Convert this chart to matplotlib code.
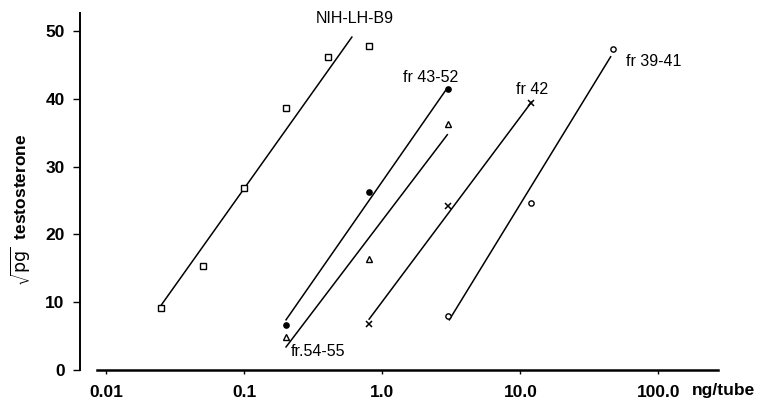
import numpy as np
import matplotlib
matplotlib.use("Agg")
import matplotlib.pyplot as plt

plt.rcParams['font.family'] = ['Liberation Sans', 'DejaVu Sans']

# measured points (ng/tube, sqrt pg testosterone)
nih_x = [0.025, 0.05, 0.1, 0.2, 0.4, 0.8]
nih_y = [9.1, 15.4, 26.9, 38.7, 46.1, 47.8]
f4352_x = [0.2, 0.8, 3.0]
f4352_y = [6.6, 26.2, 41.5]
f5455_x = [0.2, 0.8, 3.0]
f5455_y = [4.8, 16.3, 36.3]
f42_x = [0.8, 3.0, 12.0]
f42_y = [6.8, 24.2, 39.4]
f3941_x = [3.0, 12.0, 47.0]
f3941_y = [8.0, 24.7, 47.3]

# fitted lines (end points)
nih_fit_x = [0.024, 0.6]
nih_fit_y = [9.1, 49.1]
f4352_fit_x = [0.2, 2.95]
f4352_fit_y = [7.4, 41.6]
f5455_fit_x = [0.2, 2.95]
f5455_fit_y = [3.4, 34.7]
f42_fit_x = [0.8, 12.0]
f42_fit_y = [7.5, 39.5]
f3941_fit_x = [3.05, 45.0]
f3941_fit_y = [7.4, 46.2]

xticks = [0.01, 0.1, 1.0, 10.0, 100.0]
xticklabels = ['0.01', '0.1', '1.0', '10.0', '100.0']
yticks = [0, 10, 20, 30, 40, 50]

fig = plt.figure(figsize=(7.64, 4.05), dpi=100)
ax = fig.add_axes([80 / 764, 35 / 405, 640 / 764, 357 / 405])

ax.set_xscale('log')
ax.set_xlim(10 ** -2.192, 10 ** 2.4457)
ax.set_ylim(0, 52.65)

for fx, fy in [(nih_fit_x, nih_fit_y), (f4352_fit_x, f4352_fit_y),
               (f5455_fit_x, f5455_fit_y), (f42_fit_x, f42_fit_y),
               (f3941_fit_x, f3941_fit_y)]:
    ax.plot(fx, fy, color='black', linewidth=1.1)

ax.plot(nih_x, nih_y, 's', mfc='white', mec='black', ms=4.5, mew=1.0)
ax.plot(f4352_x, f4352_y, 'o', mfc='black', mec='black', ms=3.8)
ax.plot(f5455_x, f5455_y, '^', mfc='white', mec='black', ms=5, mew=1.0)
ax.plot(f42_x, f42_y, 'x', color='black', ms=5, mew=1.1)
ax.plot(f3941_x, f3941_y, 'o', mfc='white', mec='black', ms=3.8, mew=1.0)

# series labels
ax.text(0.33, 51.8, 'NIH-LH-B9', fontsize=11.5, ha='left', va='center')
ax.text(1.4, 43.2, 'fr 43-52', fontsize=11.5, ha='left', va='center')
ax.text(9.3, 41.3, 'fr 42', fontsize=11.5, ha='left', va='center')
ax.text(58, 45.5, 'fr 39-41', fontsize=11.5, ha='left', va='center')
ax.text(0.215, 2.8, 'fr.54-55', fontsize=11.5, ha='left', va='center')

ax.spines['top'].set_visible(False)
ax.spines['right'].set_visible(False)
ax.spines['left'].set_linewidth(1.4)
ax.spines['bottom'].set_linewidth(1.8)
ax.spines['bottom'].set_bounds(10 ** -2.069, 10 ** 2.431)

ax.set_xticks(xticks)
ax.set_xticklabels(xticklabels)
ax.xaxis.set_minor_locator(matplotlib.ticker.NullLocator())
ax.set_yticks(yticks)
ax.tick_params(axis='x', direction='out', length=3, width=1, pad=8,
               labelsize=12.5)
ax.tick_params(axis='y', direction='out', length=5, width=1, pad=6,
               labelsize=12.5)
for lab in ax.get_xticklabels() + ax.get_yticklabels():
    lab.set_fontweight('bold')

fig.text(692 / 764, 1 - 390 / 405, 'ng/tube', fontsize=12.5,
         fontweight='bold', ha='left', va='center')
ax.set_ylabel(r'$\sqrt{\mathrm{pg}}$  testosterone', fontsize=12.5,
              fontweight='bold')
ax.yaxis.set_label_coords(-0.074, 0.45)

fig.savefig('out.png', dpi=100)
